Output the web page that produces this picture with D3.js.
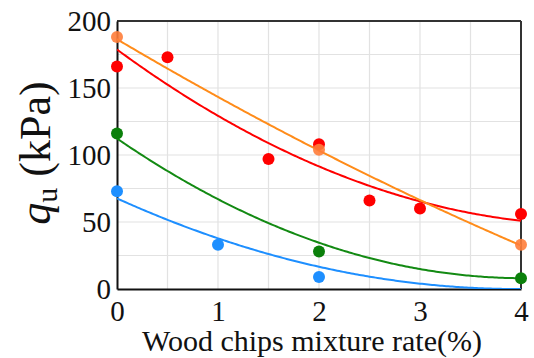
<!DOCTYPE html>
<html>
<head>
<meta charset="utf-8">
<script src="https://cdn.jsdelivr.net/npm/d3@7"></script>
<style>
  html, body { margin: 0; padding: 0; background: #fff; }
  svg { display: block; }
</style>
</head>
<body>
<svg id="chart" width="534" height="358"></svg>
<script>
// Measured unconfined compressive strength vs. wood chip content
const xTicks = [0, 1, 2, 3, 4];
const yTicks = [0, 50, 100, 150, 200];

const seriesNames  = ["red", "orange", "green", "blue"];
const seriesColors = ["#ff0000", "#ff8c1a", "#138a13", "#1e8fff"];
const pointColors  = ["#ff0000", "#ff7d3a", "#0b800b", "#1e8fff"];

const redX    = [0, 0.5, 1.5, 2, 2.5, 3, 4];
const redY    = [166, 173, 97, 108, 66, 60, 56];
const orangeX = [0, 2, 4];
const orangeY = [188, 104, 33];
const greenX  = [0, 2, 4];
const greenY  = [116, 28, 8];
const blueX   = [0, 1, 2];
const blueY   = [73, 33, 9];

// Quadratic trend coefficients: q = c0 + c1*x + c2*x^2
const redFit    = [178.7, -55.3, 5.84];
const orangeFit = [186.4, -44.6, 1.53];
const greenFit  = [112.3, -51.7, 6.41];
const blueFit   = [67.6, -34.1, 4.3];

const seriesX   = [redX, orangeX, greenX, blueX];
const seriesY   = [redY, orangeY, greenY, blueY];
const seriesFit = [redFit, orangeFit, greenFit, blueFit];

const FONT = "'Liberation Serif', 'Times New Roman', serif";

const W = 534, H = 358;
const margin = { left: 117, top: 21, right: 13, bottom: 69 };
const iw = W - margin.left - margin.right;
const ih = H - margin.top - margin.bottom;

const svg = d3.select("#chart");
const g = svg.append("g").attr("transform", `translate(${margin.left},${margin.top})`);

const x = d3.scaleLinear().domain([0, 4]).range([0, iw]);
const y = d3.scaleLinear().domain([0, 200]).range([ih, 0]);

// grid
g.append("g").selectAll("line").data(d3.range(0.5, 4, 0.5)).join("line")
  .attr("x1", d => x(d)).attr("x2", d => x(d)).attr("y1", 0).attr("y2", ih)
  .attr("stroke", "#e2e2e2").attr("stroke-width", 1.2);
g.append("g").selectAll("line").data(d3.range(25, 200, 25)).join("line")
  .attr("y1", d => y(d)).attr("y2", d => y(d)).attr("x1", 0).attr("x2", iw)
  .attr("stroke", "#e2e2e2").attr("stroke-width", 1.2);

// frame
g.append("line").attr("x1", 0).attr("x2", iw).attr("y1", 0).attr("y2", 0)
  .attr("stroke", "#333").attr("stroke-width", 2);
g.append("line").attr("x1", iw).attr("x2", iw).attr("y1", 0).attr("y2", ih)
  .attr("stroke", "#333").attr("stroke-width", 2);

// axes
const xAxis = g.append("g").attr("transform", `translate(0,${ih})`)
  .call(d3.axisBottom(x).tickValues(xTicks).tickSize(0).tickPadding(13).tickFormat(d3.format("d")));
const yAxis = g.append("g")
  .call(d3.axisLeft(y).tickValues(yTicks).tickSize(0).tickPadding(6).tickFormat(d3.format("d")));
[xAxis, yAxis].forEach(a => {
  a.attr("font-family", FONT).attr("font-size", 29);
  a.select(".domain").attr("stroke", "#111").attr("stroke-width", 2);
  a.selectAll("text").attr("font-family", FONT).attr("font-size", 29).attr("fill", "#111");
});
xAxis.selectAll("text").attr("dy", "0.66em");

// clip for trend curves
svg.append("clipPath").attr("id", "plotclip").append("rect")
  .attr("x", 0).attr("y", 0).attr("width", iw).attr("height", ih);

const line = d3.line().x(d => x(d[0])).y(d => y(d[1]));
const xs = d3.range(0, 4.0001, 0.02);
const curves = g.append("g").attr("clip-path", "url(#plotclip)");
seriesFit.forEach((c, i) => {
  const pts = xs.map(t => [t, Math.max(0, c[0] + c[1] * t + c[2] * t * t)]);
  curves.append("path").datum(pts).attr("d", line)
    .attr("fill", "none").attr("stroke", seriesColors[i]).attr("stroke-width", 2);
});

// data points
[0, 2, 3, 1].forEach(i => {
  const pts = seriesX[i].map((v, k) => [v, seriesY[i][k]]);
  g.append("g").selectAll("circle").data(pts).join("circle")
    .attr("cx", d => x(d[0])).attr("cy", d => y(d[1])).attr("r", 6)
    .attr("fill", pointColors[i]).attr("fill-opacity", i === 1 ? 0.9 : 1);
});

// axis titles
svg.append("text").attr("x", 312).attr("y", 351)
  .attr("text-anchor", "middle").attr("font-family", FONT).attr("font-size", 30).attr("fill", "#111")
  .text("Wood chips mixture rate(%)");

const yt = svg.append("text")
  .attr("transform", "translate(50,153) rotate(-90)")
  .attr("text-anchor", "middle").attr("font-family", FONT).attr("font-size", 44).attr("fill", "#111");
yt.append("tspan").attr("font-style", "italic").text("q");
yt.append("tspan").attr("dy", "0.22em").attr("font-size", 30).text("u");
yt.append("tspan").attr("dy", "-0.15em").text(" (kPa)");
</script>
</body>
</html>
